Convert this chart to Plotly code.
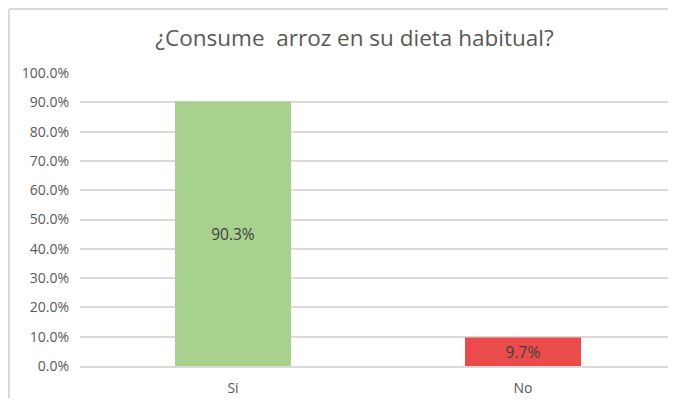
import plotly.graph_objects as go

categorias = ["Si", "No"]
porcentajes = [90.3, 9.7]
colores = ["#A9D18E", "#EC4B4B"]
tick_vals = [0, 10, 20, 30, 40, 50, 60, 70, 80, 90, 100]

fig = go.Figure(go.Bar(
    x=categorias,
    y=porcentajes,
    marker={'color': colores, 'line': {'width': 0}},
    width=0.4,
    text=[f"{v:.1f}%" for v in porcentajes],
    textposition="inside",
    insidetextanchor="middle",
    textfont={'color': "#404040", 'size': 15.5, 'family': "Open Sans"},
    hoverinfo='none'
))

# the page body has an 8px margin, so keep the figure small enough to avoid scrollbars
L, R, T, B = 72, 0, 65, 32
W, H = 660, 390
pw, ph = W - L - R, H - T - B

# chart area border (like the Excel frame), only left and top edges show
bx0, by1 = (1 - L) / pw, (H - B - 1) / ph
fig.add_shape(type="line", xref="paper", yref="paper", x0=bx0, x1=bx0,
              y0=-B / ph, y1=by1, line={'color': "#D9D9D9", 'width': 2}, layer="below")
fig.add_shape(type="line", xref="paper", yref="paper", x0=bx0, x1=(W - L) / pw,
              y0=by1, y1=by1, line={'color': "#D9D9D9", 'width': 2}, layer="below")

fig.update_layout(
    width=W, height=H,
    margin={'l': L, 'r': R, 't': T, 'b': B},
    paper_bgcolor="white", plot_bgcolor="white",
    title={'text': "¿Consume  arroz en su dieta habitual?", 'x': 0.525, 'xanchor': "center",
           'y': 1 - 30 / H, 'yanchor': "middle",
           'font': {'size': 22.5, 'color': "#595959", 'family': "Open Sans"}},
    font={'family': "Open Sans", 'color': "#595959", 'size': 14},
    showlegend=False,
    xaxis={'range': [-0.5276, 1.5],
           'showgrid': False, 'showline': True, 'linecolor': "#D9D9D9", 'linewidth': 2,
           'ticks': "", 'tickfont': {'size': 14, 'color': "#595959"}, 'ticklabelstandoff': 8},
    yaxis={'range': [0, 100], 'tickvals': tick_vals,
           'ticktext': [f"{v:.1f}%" for v in tick_vals],
           'showgrid': True, 'gridcolor': "#D9D9D9", 'gridwidth': 1.5,
           'zeroline': False, 'showline': False, 'ticks': "",
           'ticklabelstandoff': 10, 'tickfont': {'size': 14, 'color': "#595959"}},
)

fig.write_html("out.html")
